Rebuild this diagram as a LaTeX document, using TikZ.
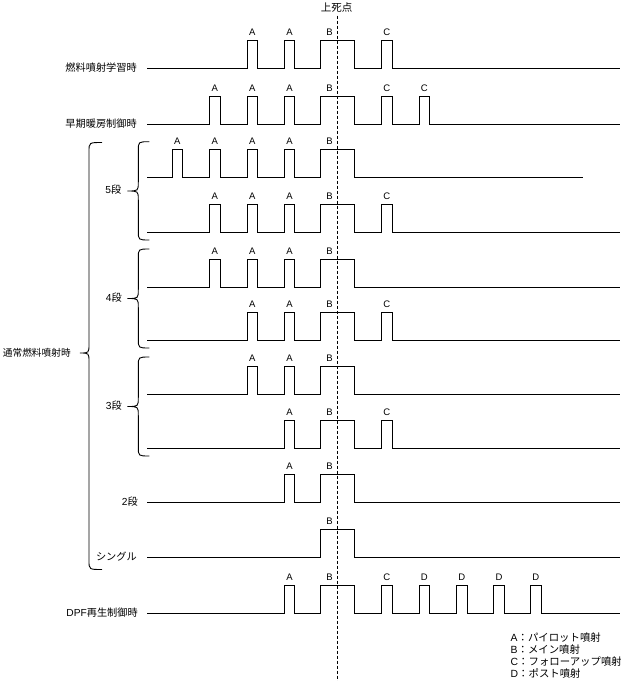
\documentclass[tikz,border=0pt]{standalone}
\usepackage{fontspec}
\setmainfont{Liberation Sans}
\newfontfamily\jp{Noto Sans CJK JP}
\newcommand\wrow[3]{\draw[wave] (147,#1) \foreach \p/\w in {#3} { -- (\p,#1) -- (\p,#1-28) -- (\p+\w,#1-28) -- (\p+\w,#1) } -- (#2,#1);}
\newcommand\wlab[2]{\foreach \x/\l [count=\i] in {#2} {\node[lab] (p#1-\i) at (\x,#1-32.3) {\l};}}
\newcommand\cbrace[7]{\draw[wave] (#2,#4) .. controls (#1,#4) .. (#1,#4+#7) -- (#1,#5-#7) .. controls (#1,#5) .. (#3,#5) .. controls (#1,#5) .. (#1,#5+#7) -- (#1,#6-#7) .. controls (#1,#6) .. (#2,#6);}
\begin{document}
\begin{tikzpicture}[x=1pt,y=-1pt,
  wave/.style={line width=0.9pt},
  lab/.style={font=\fontsize{9.5}{10}\selectfont, anchor=base, inner sep=0pt},
  rowlab/.style={font=\fontsize{10.2}{11}\selectfont, anchor=east, inner sep=0pt},
  leg/.style={font=\fontsize{10.4}{12}\selectfont, anchor=west, inner sep=0pt},
  tdcline/.style={line width=0.8pt, dash pattern=on 3pt off 2pt}]
\useasboundingbox (0,0) rectangle (621,681);
% top dead centre
\node[font=\jp\fontsize{10.5}{11}\selectfont, inner sep=0pt] (tdc) at (336.5,7.5) {上死点};
\coordinate (tdcbot) at (337.5,681);
\draw[tdcline] (tdc.south -| tdcbot) ++(0,3) -- (tdcbot);
% row labels
\node[rowlab] (r1) at (137,68) {\jp 燃料噴射学習時};
\node[rowlab] (r2) at (137,124) {\jp 早期暖房制御時};
\node[rowlab] (r5) at (121.5,190) {5\jp 段};
\node[rowlab] (r4) at (122,298) {4\jp 段};
\node[rowlab] (r3) at (122,406) {3\jp 段};
\node[rowlab] (r22) at (138,502) {2\jp 段};
\node[rowlab] (rs) at (137,557) {\jp シングル};
\node[rowlab] (rd) at (138,613) {DPF\jp 再生制御時};
\node[rowlab, font=\fontsize{9.7}{11}\selectfont] (rn) at (71,353) {\jp 通常燃料噴射時};
% braces
\cbrace{89}{102}{80}{142.5}{353}{569.5}{9}
\cbrace{138.3}{149.3}{127.5}{141.7}{191}{240}{9}
\cbrace{138.3}{149.3}{127.5}{249}{298.5}{348}{9}
\cbrace{138.3}{149.3}{127.5}{357}{406.5}{456}{9}
% waveforms
\wrow{68}{620}{247/10.5,284.3/10.5,320.3/34,381.5/10.5}
\wlab{68}{252.25/A,289.55/A,329.5/B,386.75/C}
\wrow{124}{620}{209.5/10.5,247/10.5,284.3/10.5,320.3/34,381.5/10.5,419/10.5}
\wlab{124}{214.75/A,252.25/A,289.55/A,329.5/B,386.75/C,424.25/C}
\wrow{177}{583}{172/10.5,209.5/10.5,247/10.5,284.3/10.5,320.3/34}
\wlab{177}{177.25/A,214.75/A,252.25/A,289.55/A,329.5/B}
\wrow{232}{620}{209.5/10.5,247/10.5,284.3/10.5,320.3/34,381.5/10.5}
\wlab{232}{214.75/A,252.25/A,289.55/A,329.5/B,386.75/C}
\wrow{287}{620}{209.5/10.5,247/10.5,284.3/10.5,320.3/34}
\wlab{287}{214.75/A,252.25/A,289.55/A,329.5/B}
\wrow{340}{620}{247/10.5,284.3/10.5,320.3/34,381.5/10.5}
\wlab{340}{252.25/A,289.55/A,329.5/B,386.75/C}
\wrow{394}{620}{247/10.5,284.3/10.5,320.3/34}
\wlab{394}{252.25/A,289.55/A,329.5/B}
\wrow{448}{620}{284.3/10.5,320.3/34,381.5/10.5}
\wlab{448}{289.55/A,329.5/B,386.75/C}
\wrow{502}{620}{284.3/10.5,320.3/34}
\wlab{502}{289.55/A,329.5/B}
\wrow{557}{620}{320.3/34}
\wlab{557}{329.5/B}
\wrow{613}{620}{284.3/10.5,320.3/34,381.5/10.5,419/10.5,456.5/10.5,493.7/10.5,530.5/10.5}
\wlab{613}{289.55/A,329.5/B,386.75/C,424.25/D,461.75/D,498.95/D,535.75/D}
% legend
\node[leg] (la) at (510.5,637.5) {A\jp ：パイロット噴射};
\node[leg] (lb) at (510.5,649.5) {B\jp ：メイン噴射};
\node[leg] (lc) at (510.5,661.5) {C\jp ：フォローアップ噴射};
\node[leg] (ld) at (510.5,673.5) {D\jp ：ポスト噴射};
\end{tikzpicture}
\end{document}
